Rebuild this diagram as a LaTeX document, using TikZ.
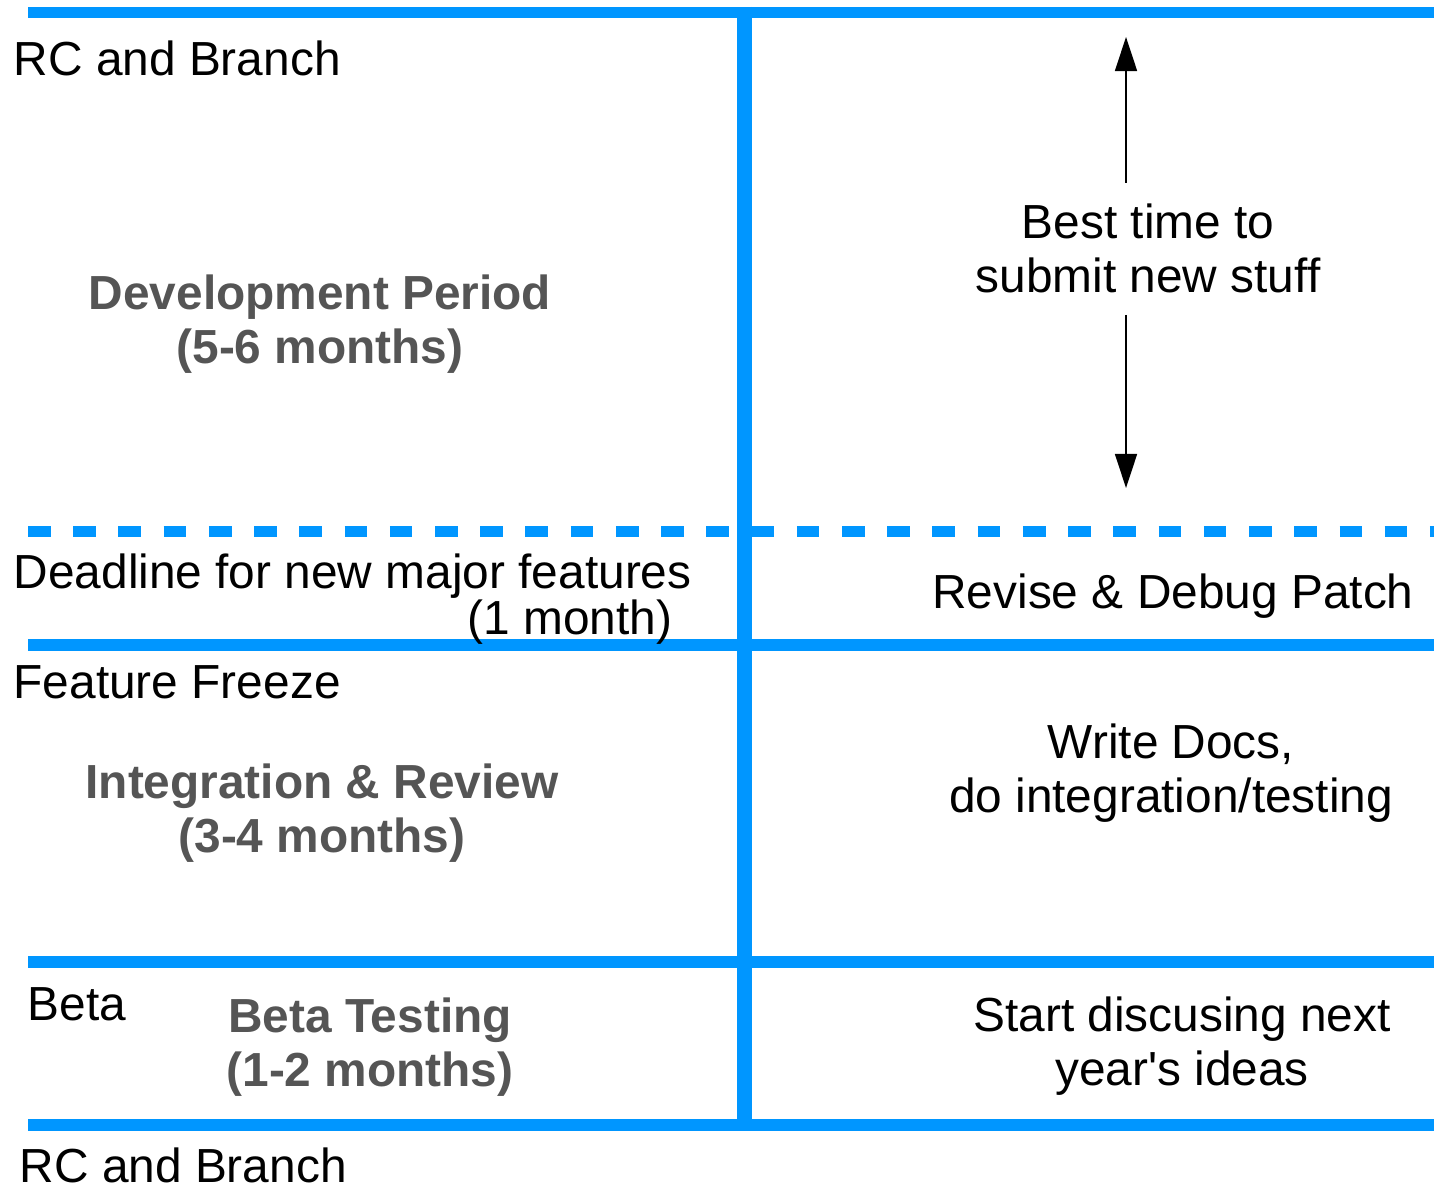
\documentclass[tikz,border=0pt]{standalone}
\usepackage{fontspec}
\setmainfont{Liberation Sans}
\usetikzlibrary{arrows.meta, positioning}
\definecolor{lineblue}{RGB}{0,150,255}
\definecolor{phasegray}{RGB}{85,85,85}

\begin{document}
\begin{tikzpicture}[x=0.01cm, y=-0.01cm,
    every node/.style={inner sep=0pt, font=\fontsize{13.6pt}{15.4pt}\selectfont},
    bar/.style={lineblue, line width=0.115cm},
    dashbar/.style={bar, dash pattern=on 6.43pt off 6.43pt},
    phase/.style={align=center, text=phasegray, font=\fontsize{13.6pt}{15.4pt}\selectfont\bfseries},
    note/.style={align=center},
    milestone/.style={anchor=west},
    hint/.style={-{Triangle[length=0.34cm, width=0.22cm]}, line width=0.015cm}]
    \useasboundingbox (0,0) rectangle (1434,1186);
    % timeline bars
    \foreach \y in {12.5, 645, 962, 1125}
        \draw[bar] (28,\y) -- (1434,\y);
    \draw[dashbar] (28,531.5) -- (1434,531.5);
    \draw[bar, line width=0.145cm] (744.5,7) -- (744.5,1125);
    % left column
    \node[milestone] (rctop) at (13,58) {RC and Branch};
    \node[phase] (dev) at (320,324) {Development Period\\(5-6 months)};
    \node[milestone] (deadline) at (13,576) {Deadline for new major features};
    \node[anchor=east] (onemonth) at (673,622) {(1 month)};
    \node[milestone] (freeze) at (13,682) {Feature Freeze};
    \node[phase] (integ) at (322,813) {Integration \& Review\\(3-4 months)};
    \node[milestone] (beta) at (27,1004) {Beta};
    \node[phase] (betatest) at (370,1047) {Beta Testing\\(1-2 months)};
    \node[milestone] (rcbottom) at (19,1165) {RC and Branch};
    % right column
    \node[note] (best) at (1148,248) {Best time to\\submit new stuff};
    \node[note] (revise) at (1173,596) {Revise \& Debug Patch};
    \node[note] (docs) at (1171,773) {Write Docs,\\do integration/testing};
    \node[note] (discuss) at (1182,1046) {Start discusing next\\year\textquotesingle s ideas};
    % arrows
    \coordinate (upfoot) at (1126,183);
    \coordinate (uptip) at (1126,37);
    \coordinate (downfoot) at (1126,315);
    \coordinate (downtip) at (1126,488);
    \draw[hint] (upfoot) -- (uptip);
    \draw[hint] (downfoot) -- (downtip);
\end{tikzpicture}
\end{document}
